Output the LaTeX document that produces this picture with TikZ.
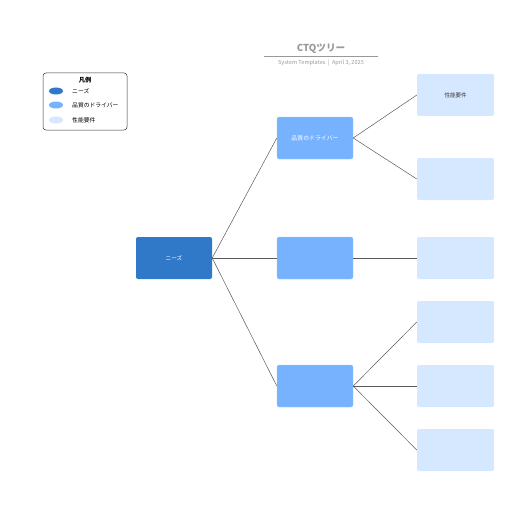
\documentclass[tikz,border=0pt]{standalone}
\usepackage{fontspec}
\setmainfont{Noto Sans CJK JP}
\usepackage{xcolor}
\usetikzlibrary{positioning,shapes.geometric}

\definecolor{needblue}{HTML}{3078C8}
\definecolor{driverblue}{HTML}{77B2FF}
\definecolor{leafblue}{HTML}{D6E8FF}
\definecolor{titlegray}{HTML}{999999}

\begin{document}
\begin{tikzpicture}[x=1pt, y=-1pt,
  needbox/.style={fill=needblue, rounded corners=2pt, minimum width=76pt, minimum height=42pt, inner sep=0pt, text=white, font=\fontsize{5.7}{6}\selectfont},
  driverbox/.style={fill=driverblue, draw=driverblue!70!white, rounded corners=2pt, minimum width=76pt, minimum height=42pt, inner sep=0pt, text=white, font=\fontsize{5.9}{6}\selectfont},
  leafbox/.style={fill=leafblue, rounded corners=2pt, minimum width=77pt, minimum height=42pt, inner sep=0pt, text=black!80, font=\fontsize{5.5}{6}\selectfont},
  link/.style={draw=black!65, line width=0.5pt},
  swatch/.style={ellipse, minimum width=14pt, minimum height=7pt, inner sep=0pt},
  legtext/.style={anchor=west, font=\fontsize{5.8}{6}\selectfont, inner sep=0pt}]
\useasboundingbox (0,0) rectangle (516,516);
% title
\node[font=\fontsize{9.6}{10}\selectfont\bfseries, text=titlegray] (title) at (321,48.5) {CTQツリー};
\draw[titlegray, line width=0.4pt] (264,56) -- (378,56);
\node[font=\fontsize{5.6}{6}\selectfont, text=titlegray] (sub) at (321,62.5) {System Templates \ | \ April 3, 2025};
% legend
\draw[black!80, fill=white, rounded corners=3pt, line width=0.5pt] (43,73) rectangle (127,130);
\node[font=\fontsize{6.2}{7}\selectfont\bfseries] (legtitle) at (85,80) {凡例};
\node[swatch, fill=needblue] (sw1) at (56,91) {};
\node[swatch, fill=driverblue] (sw2) at (56,105) {};
\node[swatch, fill=leafblue] (sw3) at (56,120) {};
\node[legtext] (lg1) at (72,91) {ニーズ};
\node[legtext] (lg2) at (72,105) {品質のドライバー};
\node[legtext] (lg3) at (72,120) {性能要件};
% tree
\node[needbox] (need) at (174,258) {ニーズ};
\node[driverbox] (drvA) at (315,138) {品質のドライバー};
\node[driverbox] (drvB) at (315,258) {};
\node[driverbox] (drvC) at (315,386) {};
\node[leafbox] (leafA) at (455.5,95) {性能要件};
\node[leafbox] (leafB) at (455.5,179) {};
\node[leafbox] (leafC) at (455.5,258) {};
\node[leafbox] (leafD) at (455.5,322) {};
\node[leafbox] (leafE) at (455.5,386) {};
\node[leafbox] (leafF) at (455.5,450) {};
\foreach \d in {drvA,drvB,drvC}
  \draw[link] (need.east) -- (\d.west);
\draw[link] (drvA.east) -- (leafA.west);
\draw[link] (drvA.east) -- (leafB.west);
\draw[link] (drvB.east) -- (leafC.west);
\draw[link] (drvC.east) -- (leafD.west);
\draw[link] (drvC.east) -- (leafE.west);
\draw[link] (drvC.east) -- (leafF.west);
\end{tikzpicture}
\end{document}
